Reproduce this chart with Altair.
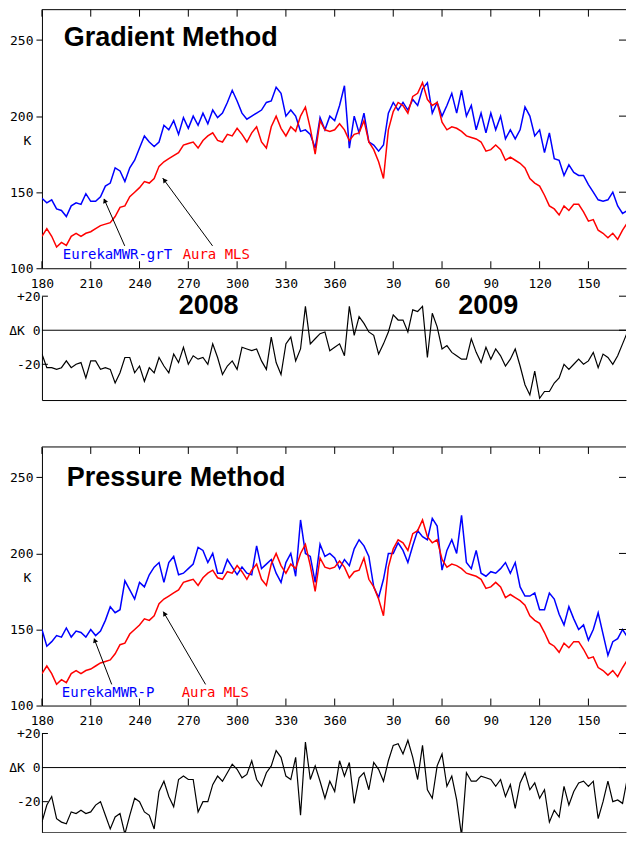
import altair as alt
import pandas as pd

# ---------------- data ----------------
days = list(range(180, 544, 3))  # continuous day count from 2008 day 180 (2009 day d = 366 + d)

grad_mwr = [146, 143, 145, 139, 138, 134, 141, 143, 142, 149, 144, 144, 147, 154, 156, 166, 164, 157, 166, 171,
            179, 187, 183, 180, 183, 194, 191, 197, 188, 199, 192, 200, 194, 202, 195, 204, 199, 202, 209, 217,
            210, 202, 198, 200, 202, 204, 209, 210, 219, 215, 200, 204, 200, 190, 191, 188, 179,
            199, 191, 200, 197, 207, 220, 179, 200, 189, 202, 183, 181, 177, 181, 202, 209, 204, 209, 204, 211,
            207, 218, 222, 202, 209, 200, 207, 215, 202, 217, 200, 207, 191, 202, 189, 202, 191, 200, 185, 191,
            185, 191, 206, 200, 187, 191, 176, 189, 172, 171, 161, 168, 163, 161, 161, 155, 150, 145, 144, 145,
            150, 141, 136, 138, 145]

aura_mls = [121, 126, 121, 114, 117, 115, 121, 123, 121, 123, 124, 126, 128, 129, 130, 134, 140, 141, 147, 150,
            153, 157, 156, 159, 167, 170, 172, 174, 176, 181, 182, 183, 179, 184, 187, 189, 184, 183, 188, 187,
            192, 188, 183, 189, 193, 183, 179, 193, 200, 192, 187, 193, 190, 200, 206, 192, 175,
            197, 191, 190, 191, 195, 191, 184, 188, 189, 197, 183, 178, 170, 159, 191, 203, 209, 207, 202, 213,
            215, 222, 211, 207, 209, 196, 191, 193, 192, 190, 187, 186, 185, 183, 177, 178, 181, 178, 171, 173,
            171, 169, 166, 159, 156, 154, 148, 141, 139, 135, 141, 138, 142, 142, 137, 131, 132, 125, 123, 120,
            123, 119, 125, 130, 123]

grad_diff = [-14, -22, -22, -23, -22, -18, -22, -20, -19, -28, -18, -18, -23, -22, -23, -31, -25, -16, -16, -25,
             -21, -30, -22, -25, -16, -21, -25, -14, -19, -10, -20, -15, -17, -16, -20, -8, -16, -26, -21, -18,
             -23, -10, -11, -12, -11, -18, -23, -4, -19, -26, -8, -4, -18, -11, 14, -8, -5,
             -2, -1, -12, -10, -8, -15, 14, -3, 8, 4, -1, -3, -14, -8, -1, 9, 6, 6, -1, 12,
             11, 14, -16, 10, 2, -11, -9, -13, -15, -17, -17, -5, -13, -19, -10, -17, -11, -15, -21, -17,
             -11, -21, -32, -38, -24, -40, -36, -36, -31, -28, -20, -23, -20, -17, -20, -18, -13, -22, -14, -16,
             -20, -15, -8, -1, -22]

pres_mwr = [150, 139, 142, 146, 145, 151, 145, 149, 148, 145, 150, 146, 149, 156, 165, 161, 163, 182, 176, 170,
            181, 178, 186, 191, 194, 181, 194, 198, 186, 187, 190, 193, 204, 202, 194, 200, 187, 187, 196, 191,
            186, 191, 187, 186, 205, 190, 193, 196, 187, 181, 194, 200, 185, 222, 200, 198, 181,
            206, 198, 200, 197, 190, 196, 192, 203, 209, 205, 198, 178, 171, 183, 200, 200, 207, 202, 194, 205,
            215, 211, 209, 223, 218, 189, 202, 209, 200, 225, 194, 190, 202, 187, 185, 188, 187, 190, 194, 187,
            194, 178, 172, 172, 174, 163, 163, 174, 170, 160, 153, 165, 157, 150, 153, 143, 150, 161, 147, 133,
            142, 144, 150, 145, 150]

pres_diff = [-32, -22, -17, -30, -32, -33, -26, -27, -25, -27, -26, -22, -20, -28, -36, -29, -27, -39, -28, -18,
             -20, -26, -28, -36, -14, -8, -17, -23, -7, -5, -7, -7, -26, -20, -20, -10, -5, -8, -3, 2,
             -1, -6, -4, 4, -7, -11, -3, 1, 10, 6, -5, -7, 6, -28, 15, -7, 1,
             -8, -18, -8, -14, 4, -5, 3, -21, -6, -3, -13, 3, -1, -8, 4, 13, 14, 8, 16, 6,
             -7, 13, -13, -18, 1, 8, -11, -5, -19, -40, -3, -8, -8, -5, -6, -7, -11, -7, -17, -10,
             -24, -9, -3, -13, -9, -18, -13, -32, -25, -29, -11, -22, -14, -9, -8, -11, -8, -30, -20, -8,
             -20, -19, -21, -6, -21]

x_ticks = [180, 210, 240, 270, 300, 330, 360, 396, 426, 456, 486, 516]
main_y_ticks = [100, 150, 200, 250]
main_right_ticks = [150, 200, 250]
main_top = [270]
diff_y_ticks = [-20, 0, 20]
diff_left_inner_ticks = [20, -20]
diff_right_ticks = [20, 0]

# annotation positions in data units (day, K)
grad_title = {"day": [193.4], "K": [245.8], "text": ["Gradient Method"]}
pres_title = {"day": [195.3], "K": [244.3], "text": ["Pressure Method"]}
grad_legend = {"day": [192.8, 266.5], "K": [106.2, 106.2], "text": ["EurekaMWR-grT", "Aura MLS"], "c": ["#0000ff", "#ff0000"]}
pres_legend = {"day": [192.2, 265.9], "K": [105.8, 105.8], "text": ["EurekaMWR-P", "Aura MLS"], "c": ["#0000ff", "#ff0000"]}
grad_arrows = {"id": [1, 1, 2, 2], "day": [230.9, 218.2, 284.9, 254.2], "K": [114.7, 145.5, 114.7, 159.3]}
grad_heads = {"day": [218.6, 255.2], "K": [144.5, 158.0], "ang": [338, 324]}
pres_arrows = {"id": [1, 1, 2, 2], "day": [222.9, 212.1, 280.6, 254.6], "K": [113.9, 143.9, 113.9, 161.7]}
pres_heads = {"day": [212.5, 255.3], "K": [142.9, 160.5], "ang": [339, 330]}
years = {"day": [282.5, 454.4], "v": [9.4, 9.4], "text": ["2008", "2009"]}

# ---------------- styling ----------------
PXD = 1.629          # pixels per day in the reference
W = 585
HM = 259
HD = 104
HD2 = 99
MONO = "DejaVu Sans Mono"
SANS = "Liberation Sans"
BLUE = "#0000ff"
RED = "#ff0000"

xscale = alt.Scale(domain=[180, 180 + W / PXD], nice=False, zero=False)
yscale_m = alt.Scale(domain=[100, 270], nice=False, zero=False)


def x_axis_main():
    return alt.Axis(values=x_ticks, labelExpr="'' + (datum.value > 366 ? datum.value - 366 : datum.value)",
                    ticks=False, labelPadding=9, domainColor="black", domainWidth=1, labelFont=MONO,
                    labelFontSize=13, labelColor="black", grid=False, title=None, labelOverlap=False,
                    labelFlush=False)


y_axis_main = alt.Axis(values=main_y_ticks, tickSize=6, tickColor="black", domainColor="black",
                       labelFont=MONO, labelFontSize=13, labelColor="black", labelPadding=3, grid=False,
                       title="K", titleAngle=0, titleX=-15, titleY=131, titleFont=MONO, titleFontSize=13,
                       titleFontWeight="normal", titleAlign="center", titleBaseline="middle",
                       titleColor="black", minExtent=33, maxExtent=33)
x_axis_diff = alt.Axis(labels=False, ticks=False, domain=True, domainColor="black", grid=False, title=None)
y_axis_diff = alt.Axis(values=diff_y_ticks,
                       labelExpr="datum.value == 0 ? '\u0394K 0' : (datum.value > 0 ? '+' + datum.value : '' + datum.value)",
                       ticks=False, domainColor="black", labelFont=MONO, labelFontSize=13, labelColor="black",
                       labelPadding=2, grid=False, title=None, minExtent=33, maxExtent=33)


def main_panel(mwr, title, legend, arrows, heads):
    d_mwr = pd.DataFrame({"day": days, "K": mwr})
    d_mls = pd.DataFrame({"day": days, "K": aura_mls})
    X = alt.X("day:Q", scale=xscale, axis=x_axis_main())
    Y = alt.Y("K:Q", scale=yscale_m, axis=y_axis_main)
    blue = alt.Chart(d_mwr).mark_line(color=BLUE, strokeWidth=1.5, clip=True).encode(x=X, y=Y)
    red = alt.Chart(d_mls).mark_line(color=RED, strokeWidth=1.5, clip=True).encode(x=X, y=Y)
    tick_df = pd.DataFrame({"day": x_ticks})
    frame_top = alt.Chart(pd.DataFrame({"K": main_top})).mark_rule(color="black").encode(y=Y)
    top = alt.Chart(tick_df).mark_rule(color="black").encode(
        x=X, y=alt.value(0), y2=alt.value(7))
    bottom = alt.Chart(tick_df).mark_rule(color="black").encode(
        x=X, y=alt.value(HM - 7), y2=alt.value(HM))
    right = alt.Chart(pd.DataFrame({"K": main_right_ticks})).mark_rule(color="black").encode(
        y=Y, x=alt.value(W - 7), x2=alt.value(W))
    ttl = alt.Chart(pd.DataFrame(title)).mark_text(
        align="left", baseline="alphabetic", font=SANS, fontSize=27, fontWeight="bold", color="black"
    ).encode(x=X, y=Y, text="text:N")
    leg = alt.Chart(pd.DataFrame(legend)).mark_text(
        align="left", baseline="alphabetic", font=MONO, fontSize=14
    ).encode(x=X, y=Y, text="text:N", color=alt.Color("c:N", scale=None))
    arr = alt.Chart(pd.DataFrame(arrows)).mark_line(color="black", strokeWidth=1).encode(
        x=X, y=Y, detail="id:N")
    hd = alt.Chart(pd.DataFrame(heads)).mark_point(
        shape="triangle-up", filled=True, size=28, color="black", opacity=1
    ).encode(x=X, y=Y, angle=alt.Angle("ang:Q", scale=None))
    return alt.layer(blue, red, frame_top, top, bottom, right, ttl, leg, arr, hd).properties(
        width=W, height=HM)


def diff_panel(diff, with_years, h, ymin):
    yscale_d = alt.Scale(domain=[ymin, 20], nice=False, zero=False)
    X = alt.X("day:Q", scale=xscale, axis=x_axis_diff)
    Y = alt.Y("v:Q", scale=yscale_d, axis=y_axis_diff)
    line = alt.Chart(pd.DataFrame({"day": days, "v": diff})).mark_line(
        color="black", strokeWidth=1.2, clip=True).encode(x=X, y=Y)
    zero = alt.Chart(pd.DataFrame({"v": [0]})).mark_rule(color="black", strokeWidth=1).encode(y=Y)
    lt = alt.Chart(pd.DataFrame({"v": diff_left_inner_ticks})).mark_rule(color="black").encode(
        y=Y, x=alt.value(0), x2=alt.value(6))
    rt = alt.Chart(pd.DataFrame({"v": diff_right_ticks})).mark_rule(color="black").encode(
        y=Y, x=alt.value(W - 7), x2=alt.value(W))
    layers = [line, zero, lt, rt]
    if with_years:
        yr = alt.Chart(pd.DataFrame(years)).mark_text(
            align="center", baseline="alphabetic", font=SANS, fontSize=27, fontWeight="bold", color="black"
        ).encode(x=X, y=Y, text="text:N")
        layers.append(yr)
    return alt.layer(*layers).properties(width=W, height=h)


def spacer(h):
    return alt.Chart(pd.DataFrame({"a": [0]})).mark_point(opacity=0, size=1).encode(
        x=alt.value(W / 2), y=alt.value(h / 2)).properties(width=W, height=h)


chart = alt.vconcat(
    main_panel(grad_mwr, grad_title, grad_legend, grad_arrows, grad_heads),
    spacer(28),
    diff_panel(grad_diff, True, HD, -41),
    spacer(47),
    main_panel(pres_mwr, pres_title, pres_legend, pres_arrows, pres_heads),
    spacer(28),
    diff_panel(pres_diff, False, HD2, -38),
    spacing=0, bounds="flush"
).properties(padding=0, background="white").configure_view(stroke=None)

chart.save("out.html", embed_options={"renderer": "svg", "actions": False})
